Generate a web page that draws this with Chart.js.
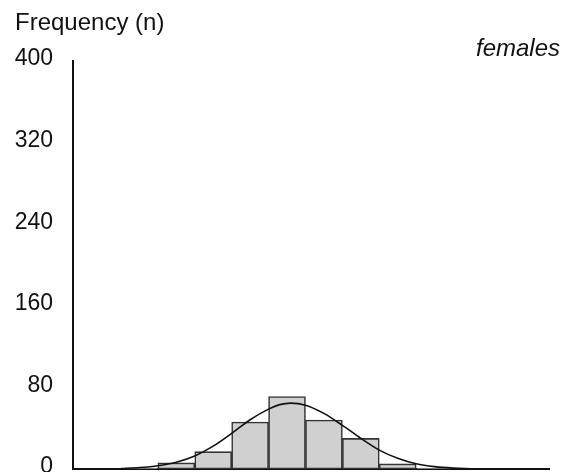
<!DOCTYPE html>
<html>
<head>
<meta charset="utf-8">
<script src="https://cdn.jsdelivr.net/npm/chart.js@4/dist/chart.umd.min.js"></script>
<style>
  html, body { margin: 0; padding: 0; background: #ffffff; }
  #wrap { width: 576px; height: 472px; position: relative; }
</style>
</head>
<body>
<div id="wrap"><canvas id="c" width="576" height="472"></canvas></div>
<script>
// Histogram bins (centres on the x scale, width 10) and counts per bin
const binCenters = [18, 28, 38, 48, 58, 68, 78, 88, 98];
const counts = [1, 6, 17, 46, 71, 48, 30, 5, 1];

// Fitted normal curve, sampled points
const curveX = [13, 18, 23, 28, 33, 38, 43, 48, 53, 56, 59, 63, 68, 73, 78, 83, 88, 93, 98, 103, 108];
const curveY = [0.5, 1.4, 3.2, 6.7, 12.8, 22.4, 34.9, 48.3, 58.7, 63.1, 64.6, 62.6, 54.5, 42.8, 30.1, 18.5, 10.5, 5.1, 2.3, 0.9, 0.3];

// Frequency axis ticks
const yTicks = [0, 80, 160, 240, 320, 400];

const FONT = '"Liberation Sans", Arial, Helvetica, sans-serif';

const labelsPlugin = {
  id: 'panelLabels',
  afterDraw(chart) {
    const ctx = chart.ctx;
    ctx.save();
    ctx.fillStyle = '#111111';
    ctx.textBaseline = 'alphabetic';
    ctx.font = '24px ' + FONT;
    ctx.textAlign = 'left';
    ctx.fillText('Frequency (n)', 15, 30);
    ctx.font = 'italic 24px ' + FONT;
    ctx.textAlign = 'right';
    ctx.fillText('females', 560, 56);
    ctx.restore();
  }
};

function noPadding(scale) {
  scale.paddingTop = 0;
  scale.paddingBottom = 0;
  scale.paddingLeft = 0;
  scale.paddingRight = 0;
}

new Chart(document.getElementById('c'), {
  type: 'bar',
  data: {
    datasets: [
      {
        type: 'line',
        data: curveX.map((x, i) => ({ x: x, y: curveY[i] })),
        borderColor: '#111111',
        borderWidth: 1.6,
        pointRadius: 0,
        fill: false,
        cubicInterpolationMode: 'monotone',
        order: 0
      },
      {
        type: 'bar',
        data: binCenters.map((x, i) => ({ x: x, y: counts[i] })),
        backgroundColor: '#d0d0d0',
        borderColor: '#333333',
        borderWidth: 1.6,
        borderSkipped: false,
        barPercentage: 1.0,
        categoryPercentage: 1.0,
        order: 1
      }
    ]
  },
  options: {
    responsive: false,
    animation: false,
    layout: { padding: { left: 0, right: 27, top: 61, bottom: 3 } },
    plugins: {
      legend: { display: false },
      tooltip: { enabled: false }
    },
    scales: {
      x: {
        type: 'linear',
        min: 0,
        max: 129,
        offset: false,
        grid: { display: false, drawTicks: false },
        border: { display: true, color: '#111111', width: 2 },
        ticks: { display: false },
        afterBuildTicks(scale) { scale.ticks = [{ value: 0 }]; },
        afterFit(scale) { scale.height = 0; noPadding(scale); }
      },
      y: {
        min: 0,
        max: 400,
        afterBuildTicks(scale) { scale.ticks = yTicks.map(v => ({ value: v })); },
        grid: { display: false, drawTicks: false },
        border: { display: true, color: '#111111', width: 2 },
        ticks: {
          color: '#111111',
          font: { family: FONT, size: 23 },
          padding: 20,
          labelOffset: -2
        },
        afterFit(scale) { scale.width = 73; noPadding(scale); }
      }
    }
  },
  plugins: [labelsPlugin]
});
</script>
</body>
</html>
